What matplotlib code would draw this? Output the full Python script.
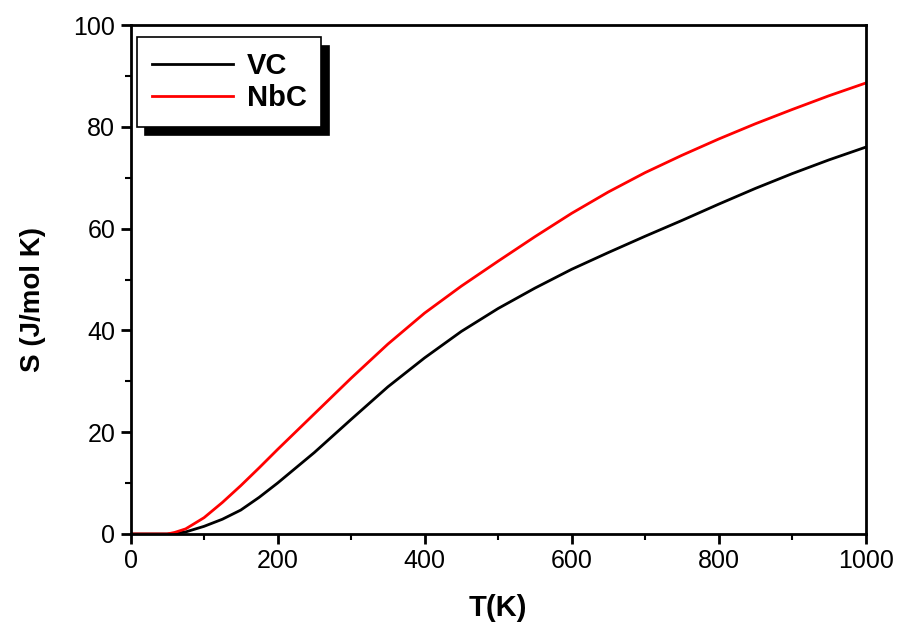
import matplotlib
matplotlib.use("Agg")
import matplotlib.pyplot as plt
from matplotlib.ticker import MultipleLocator

plt.rcParams['font.family'] = ['Liberation Sans', 'DejaVu Sans']

# temperature grid (K) and entropy
T = [0, 50, 60, 75, 100, 125, 150, 175, 200, 250, 300, 350, 400, 450, 500,
     550, 600, 650, 700, 750, 800, 850, 900, 950, 1000]
S_vc = [0, 0, 0.1, 0.4, 1.5, 2.9, 4.7, 7.2, 10.0, 16.0, 22.5, 28.9, 34.6, 39.8, 44.3,
        48.3, 52.0, 55.3, 58.5, 61.6, 64.8, 67.9, 70.8, 73.5, 76.0]
S_nbc = [0, 0, 0.3, 1.0, 3.2, 6.2, 9.5, 13.0, 16.6, 23.6, 30.6, 37.3, 43.4, 48.7, 53.6,
         58.4, 63.0, 67.2, 71.0, 74.4, 77.6, 80.6, 83.4, 86.1, 88.6]

fig = plt.figure(figsize=(9.02, 6.26), dpi=100)
ax = fig.add_axes([0.1447, 0.147, 0.815, 0.813])

ax.plot(T, S_vc, color='black', linewidth=2, label='VC')
ax.plot(T, S_nbc, color='red', linewidth=2, label='NbC')

ax.set_xlim(0, 1000)
ax.set_ylim(0, 100)
ax.xaxis.set_major_locator(MultipleLocator(200))
ax.xaxis.set_minor_locator(MultipleLocator(100))
ax.yaxis.set_major_locator(MultipleLocator(20))
ax.yaxis.set_minor_locator(MultipleLocator(10))
ax.tick_params(which='major', direction='out', length=7, width=2, labelsize=18, pad=4)
ax.tick_params(which='minor', direction='out', length=4, width=1.5)
for sp in ax.spines.values():
    sp.set_linewidth(2)

ax.set_xlabel('T(K)', fontsize=21, fontweight='bold')
ax.set_ylabel('S (J/mol K)', fontsize=20, fontweight='bold')
ax.xaxis.set_label_coords(0.5, -0.117)
ax.yaxis.set_label_coords(-0.115, 0.46)

leg = ax.legend(loc='upper left', bbox_to_anchor=(0.009, 0.976), fancybox=False,
                shadow={'color': 'black', 'alpha': 1, 'ox': 6, 'oy': -6},
                edgecolor='black', prop={'weight': 'bold', 'size': 21},
                handlelength=2.8, borderpad=0.5, labelspacing=0.15,
                handletextpad=0.45, borderaxespad=0)
leg.get_frame().set_linewidth(1.2)

plt.savefig('out.png', dpi=100)
